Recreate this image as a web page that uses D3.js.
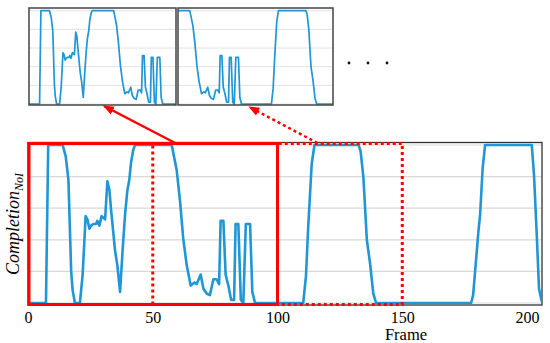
<!DOCTYPE html>
<html>
<head>
<meta charset="utf-8">
<script src="https://cdn.jsdelivr.net/npm/d3@7"></script>
<style>
body { margin: 0; background: #fff; }
svg text { font-family: "Liberation Serif", "DejaVu Serif", serif; }
</style>
</head>
<body>
<script>
// readings of the curve, frame / completion value
let frames = [0, 7.2, 8.1, 13.9, 15.1, 16.2, 17.3, 17.9, 18.8, 20.8,
    21.9, 23.1, 23.8, 24.6, 25.3, 26.2, 27.3, 27.8, 28.6, 29.5,
    30.2, 30.9, 31.8, 32.6, 33.3, 34.9, 35.8, 36.9, 37.9, 38.9,
    39.8, 40.6, 41.3, 42.2, 42.9, 57.6, 59.6, 60.9, 62.2, 63.6,
    65.2, 66.7, 67.6, 69.2, 70.3, 71.6, 72.9, 74.3, 75.6, 76.6,
    77.2, 78.3, 79.2, 80.3, 81.4, 82.6, 83.2, 84.3, 85.3, 86.3,
    87.3, 89.0, 89.9, 91.0, 110.3, 111.4, 112.3, 113.7, 114.8, 132.5,
    133.3, 134.4, 135.8, 137.1, 138.4, 139.5, 177.6, 178.4, 180.5, 181.2,
    182.2, 183.2, 201.9, 202.8, 203.9, 204.8, 205.9];
let values = [0, 0, 1, 1, 0.93, 0.78, 0.2, 0.08, 0, 0,
    0.18, 0.55, 0.53, 0.47, 0.49, 0.5, 0.5, 0.52, 0.49, 0.55,
    0.54, 0.53, 0.77, 0.72, 0.59, 0.33, 0.24, 0.07, 0.33, 0.56,
    0.71, 0.78, 0.89, 0.97, 1, 1, 0.84, 0.65, 0.41, 0.24,
    0.11, 0.13, 0.12, 0.18, 0.09, 0.06, 0.05, 0.15, 0.15, 0.12,
    0.52, 0.52, 0.18, 0.11, 0.02, 0.02, 0.5, 0.5, 0.02, 0,
    0.5, 0.5, 0.07, 0, 0, 0.17, 0.48, 0.88, 1, 1,
    0.96, 0.8, 0.4, 0.25, 0.06, 0, 0, 0.05, 0.45, 0.56,
    0.85, 1, 1, 0.81, 0.43, 0.09, 0.01];
let xTicks = [0, 50, 100, 150, 200];
let gridValues = [0, 0.2, 0.4, 0.6, 0.8, 1];
let solidRange = [0, 100];
let dottedRange = [50, 150];

let data = frames.map((f, i) => ({ f: f, v: values[i] }));
let blue = '#1f96d5';
let serif = '"Liberation Serif", "DejaVu Serif", serif';

var svg = d3.select('body').append('svg')
    .attr('width', 550)
    .attr('height', 343);

var defs = svg.append('defs');
defs.append('marker')
    .attr('id', 'head')
    .attr('viewBox', '0 0 10 10')
    .attr('refX', 9).attr('refY', 5)
    .attr('markerUnits', 'userSpaceOnUse')
    .attr('markerWidth', 11).attr('markerHeight', 11)
    .attr('orient', 'auto')
    .append('path')
    .attr('d', 'M0,1 L10,5 L0,9 z')
    .attr('fill', '#ff0000');

// main chart
let plotLeft = 28, plotRight = 542, plotTop = 142.5, plotBottom = 305;
var x = d3.scaleLinear().domain([0, 206]).range([plotLeft, plotRight]);
var y = d3.scaleLinear().domain([0, 1]).range([303, 145]);

defs.append('clipPath').attr('id', 'mainClip')
    .append('rect')
    .attr('x', plotLeft).attr('y', plotTop - 2)
    .attr('width', plotRight - plotLeft).attr('height', plotBottom - plotTop + 2);

svg.append('g')
    .selectAll('line')
    .data(gridValues)
    .join('line')
    .attr('x1', plotLeft).attr('x2', plotRight)
    .attr('y1', d => y(d)).attr('y2', d => y(d))
    .attr('stroke', '#d9d9d9')
    .attr('stroke-width', 1.2);

svg.append('rect')
    .attr('x', plotLeft).attr('y', plotTop)
    .attr('width', plotRight - plotLeft).attr('height', plotBottom - plotTop)
    .attr('fill', 'none')
    .attr('stroke', '#333')
    .attr('stroke-width', 1.3);

var line = d3.line().x(d => x(d.f)).y(d => y(d.v));
svg.append('path')
    .datum(data)
    .attr('clip-path', 'url(#mainClip)')
    .attr('d', line)
    .attr('fill', 'none')
    .attr('stroke', blue)
    .attr('stroke-width', 2.6)
    .attr('stroke-linejoin', 'round');

var xAxis = d3.axisBottom(x)
    .tickValues(xTicks)
    .tickSize(0)
    .tickPadding(7);
var gx = svg.append('g')
    .attr('transform', 'translate(0,' + plotBottom + ')')
    .call(xAxis);
gx.select('.domain').remove();
gx.attr('font-family', null);
gx.selectAll('text')
    .style('font-family', serif)
    .attr('font-size', 16)
    .attr('fill', '#000');

svg.append('text')
    .attr('x', 406).attr('y', 340)
    .attr('text-anchor', 'middle')
    .style('font-family', serif)
    .attr('font-size', 16.5)
    .text('Frame');

var ylab = svg.append('text')
    .attr('transform', 'translate(19,224) rotate(-90)')
    .attr('text-anchor', 'middle')
    .style('font-family', serif)
    .attr('font-style', 'italic')
    .attr('font-size', 18);
ylab.append('tspan').text('Completion');
ylab.append('tspan').attr('font-size', 12).attr('dy', 4).text('NoI');

// zoom boxes on the main chart
svg.append('rect')
    .attr('x', x(dottedRange[0])).attr('y', 143.5)
    .attr('width', x(dottedRange[1]) - x(dottedRange[0])).attr('height', 161)
    .attr('fill', 'none')
    .attr('stroke', '#ff0000')
    .attr('stroke-width', 3)
    .attr('stroke-dasharray', '3,3');
svg.append('rect')
    .attr('x', x(solidRange[0]) + 1).attr('y', 143.5)
    .attr('width', x(solidRange[1]) - x(solidRange[0]) - 1).attr('height', 161)
    .attr('fill', 'none')
    .attr('stroke', '#ff0000')
    .attr('stroke-width', 3);

// insets
let insets = [
    { range: solidRange, x0: 29, x1: 176 },
    { range: dottedRange, x0: 178, x1: 333 }
];
let iTop = 8, iBottom = 105;
var iy = d3.scaleLinear().domain([0, 1]).range([104, 10.7]);
insets.forEach((ins, k) => {
    ins.sx = d3.scaleLinear().domain(ins.range).range([ins.x0, ins.x1]);
    defs.append('clipPath').attr('id', 'clip' + k)
        .append('rect')
        .attr('x', ins.x0).attr('y', iTop)
        .attr('width', ins.x1 - ins.x0).attr('height', iBottom - iTop);
    let g = svg.append('g');
    g.selectAll('line')
        .data(gridValues)
        .join('line')
        .attr('x1', ins.x0).attr('x2', ins.x1)
        .attr('y1', d => iy(d)).attr('y2', d => iy(d))
        .attr('stroke', '#e3e3e3')
        .attr('stroke-width', 1);
    g.append('path')
        .datum(data)
        .attr('clip-path', 'url(#clip' + k + ')')
        .attr('d', d3.line().x(d => ins.sx(d.f)).y(d => iy(d.v)))
        .attr('fill', 'none')
        .attr('stroke', blue)
        .attr('stroke-width', 1.7)
        .attr('stroke-linejoin', 'round');
    g.append('rect')
        .attr('x', ins.x0).attr('y', iTop)
        .attr('width', ins.x1 - ins.x0).attr('height', iBottom - iTop)
        .attr('fill', 'none')
        .attr('stroke', '#444')
        .attr('stroke-width', 1.5);
});

// ellipsis for further windows
svg.append('g')
    .selectAll('circle')
    .data([0, 1, 2])
    .join('circle')
    .attr('cx', d => 349 + d * 19)
    .attr('cy', 63)
    .attr('r', 1.4)
    .attr('fill', '#111');

// arrows from the windows to the insets
svg.append('line')
    .attr('x1', x(59)).attr('y1', 143)
    .attr('x2', insets[0].sx(51)).attr('y2', 106)
    .attr('stroke', '#ff0000')
    .attr('stroke-width', 2.5)
    .attr('marker-end', 'url(#head)');
svg.append('line')
    .attr('x1', x(116)).attr('y1', 143)
    .attr('x2', insets[1].sx(96)).attr('y2', 107)
    .attr('stroke', '#ff0000')
    .attr('stroke-width', 2.5)
    .attr('stroke-dasharray', '3,3')
    .attr('marker-end', 'url(#head)');
</script>
</body>
</html>
